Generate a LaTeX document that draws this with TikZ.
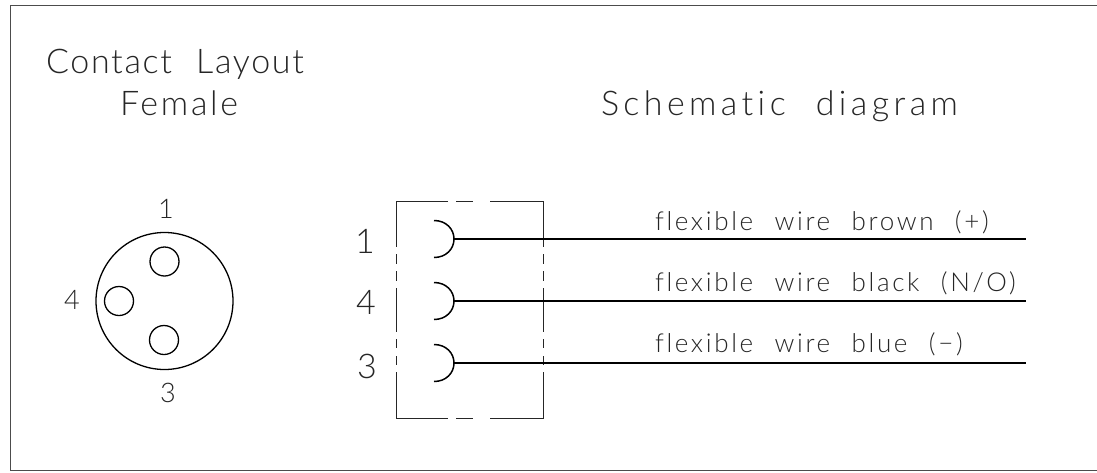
\documentclass[tikz,border=0pt]{standalone}
\usepackage{fontspec}
\setmainfont[Ligatures=CommonOff,WordSpace=2.2]{Lato Light}
\tikzset{x=1pt,y=-1pt,
 lab/.style={inner sep=0pt,outer sep=0pt,anchor=base west,text=black!85},
 wire/.style={line width=1.5pt,black},
 thin box/.style={line width=1pt,black!85},
 round/.style={circle,draw,line width=1.3pt,black,minimum size=#1,inner sep=0pt,outer sep=0pt}}
\newcommand{\titlefont}[1]{\fontsize{34}{34}\selectfont\addfontfeature{LetterSpace=#1}}
\newcommand{\medf}{\fontsize{26}{28}\selectfont\addfontfeature{LetterSpace=10.2}}
\newcommand{\numf}{\fontsize{27}{28}\selectfont}
\begin{document}
\begin{tikzpicture}
\useasboundingbox (0,0) rectangle (1097,472);
\draw[line width=1pt,black!70] (1097,5.5) -- (10,5.5) -- (10,470.5) -- (1097,470.5);
\node[lab,font=\titlefont{5}] (t1) at (46,73) {Contact Layout};
\node[lab,font=\titlefont{8}] (t2) at (120,115) {Female};
\node[lab,font=\titlefont{13}] (t3) at (601,115) {Schematic diagram};
\node[round=137pt] (c) at (164.5,301) {};
\node[round=29pt] (p1) at (164.5,261.5) {};
\node[round=29pt] (p4) at (119,301) {};
\node[round=29pt] (p3) at (164,340) {};
\node[lab,font=\numf] (n1) at (158,218) {1};
\node[lab,font=\numf] (n4) at (64,309) {4};
\node[lab,font=\numf] (n3) at (160,402) {3};
\node[lab,font=\titlefont{0}] (m1) at (355,253) {1};
\node[lab,font=\titlefont{0}] (m4) at (356,314) {4};
\node[lab,font=\titlefont{0}] (m3) at (357,378) {3};
\draw[thin box] (448,201) -- (396,201) -- (396,247);
\draw[thin box] (396,372) -- (396,418) -- (448,418);
\draw[thin box] (490,201) -- (543,201) -- (543,247);
\draw[thin box] (543,372) -- (543,418) -- (490,418);
\draw[thin box] (456,201) -- (473,201);
\draw[thin box] (456,418) -- (473,418);
\foreach \y/\z in {254/264,271/281,288/332,339/348,356/365}{
 \draw[thin box] (396,\y) -- (396,\z);
 \draw[thin box] (543,\y) -- (543,\z);}
\coordinate (e1) at (1026,239);
\coordinate (e4) at (1026,301);
\coordinate (e3) at (1026,363);
\foreach \y/\n in {239/1,301/4,363/3}{
 \coordinate (a\n) at (454,\y);
 \draw[wire] (434,\y-18.5) .. controls (446,\y-18.5) and (454,\y-10) .. (a\n) .. controls (454,\y+10) and (446,\y+18.5) .. (434,\y+18.5);
 \draw[wire] (a\n) -- (e\n);
}
\node[lab,font=\medf] (w1) at (655,230) {flexible wire brown (+)};
\node[lab,font=\medf] (w4) at (655,291) {flexible wire black (N/O)};
\node[lab,font=\medf] (w3) at (655,352) {flexible wire blue (−)};
\end{tikzpicture}
\end{document}
